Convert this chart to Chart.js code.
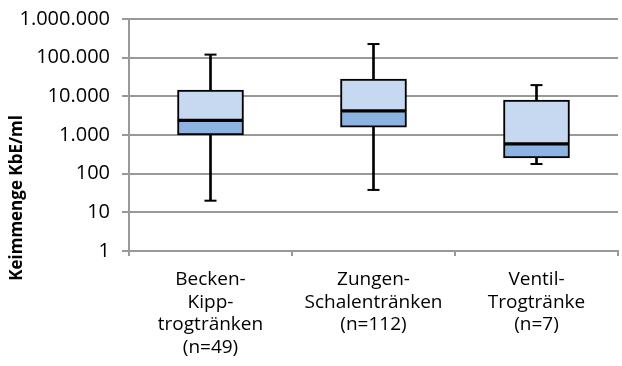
<!DOCTYPE html>
<html>
<head>
<meta charset="utf-8">
<script src="https://cdn.jsdelivr.net/npm/chart.js@4"></script>
<style>
html, body { margin:0; padding:0; background:#fff; overflow:hidden; }
#wrap { width:626px; height:366px; }
</style>
</head>
<body>
<div id="wrap"><canvas id="grafico" width="626" height="366"></canvas></div>
<script>
// ==============================
// DATOS
// ==============================

const kategorien = [
  ["Becken-", "Kipp-", "trogtränken", "(n=49)"],
  ["Zungen-", "Schalentränken", "(n=112)"],
  ["Ventil-", "Trogtränke", "(n=7)"]
];

const minimum = [20, 38, 178];
const quartil1 = [1000, 1600, 255];
const median = [2400, 4200, 590];
const quartil3 = [14500, 28000, 8000];
const maximum = [120000, 225000, 19500];

const yTicks = [1, 10, 100, 1000, 10000, 100000, 1000000];

const yTitel = "Keimmenge KbE/ml";

// ==============================
// HILFEN
// ==============================

function tausender(v){
  return String(v).replace(/\B(?=(\d{3})+(?!\d))/g, ".");
}

const schrift = "'Open Sans', sans-serif";

// achsentitel wie im original etwas tiefer als die mitte
const titelPlugin = {
  id: "titel",
  afterDraw(chart){
    const c = chart.ctx;
    c.save();
    c.translate(17, 198);
    c.rotate(-Math.PI / 2);
    c.font = "bold 17px " + schrift;
    c.fillStyle = "#000";
    c.textAlign = "center";
    c.textBaseline = "middle";
    c.fillText(yTitel, 0, 0);
    c.restore();
  }
};

// ==============================
// GRAFICO
// ==============================

const ctx = document.getElementById("grafico").getContext("2d");

new Chart(ctx, {
  data: {
    labels: kategorien,
    datasets: [
      {
        type: "bar",
        label: "Whisker",
        data: minimum.map((v, i) => [v, maximum[i]]),
        backgroundColor: "#000",
        borderWidth: 0,
        barThickness: 2,
        grouped: false,
        order: 5
      },
      {
        type: "bar",
        label: "Q1-Median",
        data: quartil1.map((v, i) => [v, median[i]]),
        backgroundColor: "#8db3e2",
        borderColor: "#000",
        borderWidth: 2,
        borderSkipped: false,
        barThickness: 66,
        grouped: false,
        order: 2
      },
      {
        type: "bar",
        label: "Median-Q3",
        data: median.map((v, i) => [v, quartil3[i]]),
        backgroundColor: "#c6d9f1",
        borderColor: "#000",
        borderWidth: 2,
        borderSkipped: false,
        barThickness: 66,
        grouped: false,
        order: 1
      },
      {
        type: "line",
        label: "Min",
        data: minimum,
        showLine: false,
        pointStyle: "line",
        pointRadius: 6,
        pointBorderWidth: 2,
        pointBorderColor: "#000",
        order: 0
      },
      {
        type: "line",
        label: "Max",
        data: maximum,
        showLine: false,
        pointStyle: "line",
        pointRadius: 6,
        pointBorderWidth: 2,
        pointBorderColor: "#000",
        order: 0
      }
    ]
  },
  options: {
    responsive: false,
    animation: false,
    layout: { padding: { top: 0, left: 0, right: 0, bottom: 0 } },
    plugins: {
      legend: { display: false },
      tooltip: { enabled: false }
    },
    scales: {
      x: {
        type: "category",
        offset: true,
        afterFit: s => { s.height = 115; },
        grid: {
          offset: true,
          drawOnChartArea: false,
          color: "#999",
          lineWidth: 2,
          tickLength: 5
        },
        border: { color: "#999", width: 2 },
        ticks: {
          color: "#000",
          padding: 12,
          maxRotation: 0,
          autoSkip: false,
          font: { family: schrift, size: 19, lineHeight: 1.2 }
        }
      },
      y: {
        type: "logarithmic",
        min: 1,
        max: 1000000,
        afterBuildTicks: s => { s.ticks = yTicks.map(v => ({ value: v })); },
        afterFit: s => { s.width = 129; },
        grid: {
          color: "#999",
          lineWidth: 2,
          tickLength: 7
        },
        border: { color: "#999", width: 2 },
        ticks: {
          color: "#000",
          padding: 12,
          autoSkip: false,
          font: { family: schrift, size: 20, lineHeight: 0.7 },
          callback: v => tausender(v)
        }
      }
    }
  },
  plugins: [titelPlugin]
});
</script>
</body>
</html>
